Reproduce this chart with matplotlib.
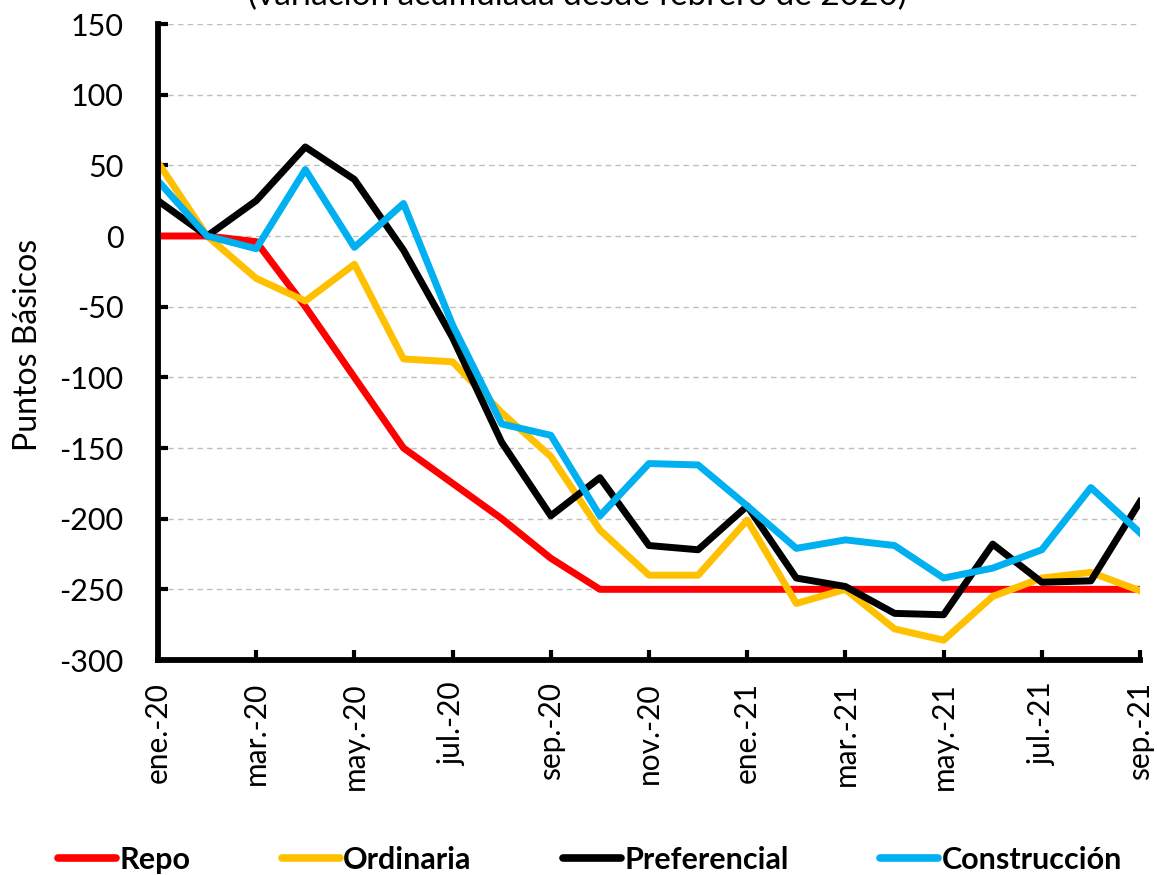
import matplotlib
matplotlib.use("Agg")
import matplotlib.pyplot as plt

# Data (puntos basicos, variacion acumulada desde feb-2020)
months = ["ene.-20", "feb.-20", "mar.-20", "abr.-20", "may.-20", "jun.-20", "jul.-20",
          "ago.-20", "sep.-20", "oct.-20", "nov.-20", "dic.-20", "ene.-21", "feb.-21",
          "mar.-21", "abr.-21", "may.-21", "jun.-21", "jul.-21", "ago.-21", "sep.-21"]
repo = [0, 0, -4, -50, -100, -150, -175, -200, -228, -250, -250, -250, -250, -250,
        -250, -250, -250, -250, -250, -250, -250]
ordinaria = [52, 0, -30, -46, -20, -87, -89, -125, -156, -208, -240, -240, -201, -260,
             -250, -278, -286, -255, -242, -238, -251]
preferencial = [25, 0, 25, 63, 40, -10, -72, -146, -198, -171, -219, -222, -191, -242,
                -248, -267, -268, -218, -245, -244, -188]
construccion = [39, 0, -9, 47, -8, 23, -63, -133, -141, -198, -161, -162, -191, -221,
                -215, -219, -242, -235, -222, -178, -210]

series = [("Repo", repo, "#FF0000"),
          ("Ordinaria", ordinaria, "#FFC000"),
          ("Preferencial", preferencial, "#000000"),
          ("Construcción", construccion, "#00B0F0")]

plt.rcParams['font.family'] = ['Lato', 'DejaVu Sans']
plt.rcParams['axes.unicode_minus'] = False

W, H = 1157, 875
fig = plt.figure(figsize=(W / 100, H / 100), dpi=100)
ax = fig.add_axes([158/W, 1 - 660/H, (1140-158)/W, (660-24)/H])

x = list(range(len(months)))
for name, vals, col in series:
    ax.plot(x, vals, color=col, linewidth=5.0, label=name)

ax.set_xlim(0, len(months) - 1)
ax.set_ylim(-300, 150)
ax.set_yticks(range(-300, 151, 50))
ax.set_xticks(x[::2])
ax.set_xticklabels(months[::2], rotation=90, fontsize=21.5)
ax.tick_params(axis='y', labelsize=22, direction='in', length=7, width=3, pad=25)
ax.tick_params(axis='x', direction='in', length=7, width=3, pad=16)

# grid
for yv in range(-250, 151, 50):
    ax.axhline(yv, color='#BFBFBF', linewidth=1, linestyle=(0, (4, 3)), zorder=0)

for s in ['top', 'right']:
    ax.spines[s].set_visible(False)
for s in ['left', 'bottom']:
    ax.spines[s].set_linewidth(4.2)

fig.text(28/W, 1 - 345/H, "Puntos Básicos", fontsize=23, rotation=90,
         ha='center', va='center')

fig.text(577/W, 1 + 4/H, "(variación acumulada desde febrero de 2020)", fontsize=24,
         ha='center', va='center')

leg = fig.legend(loc='center', bbox_to_anchor=(590/W, 1 - 860/H), ncol=4, frameon=False,
                 handlelength=1.9, handletextpad=0.1, columnspacing=3.0,
                 prop={'size': 22, 'weight': 'bold'})
for line in leg.get_lines():
    line.set_linewidth(5.5)
    line.set_solid_capstyle('round')

plt.savefig("out.png", dpi=100)
plt.close()
